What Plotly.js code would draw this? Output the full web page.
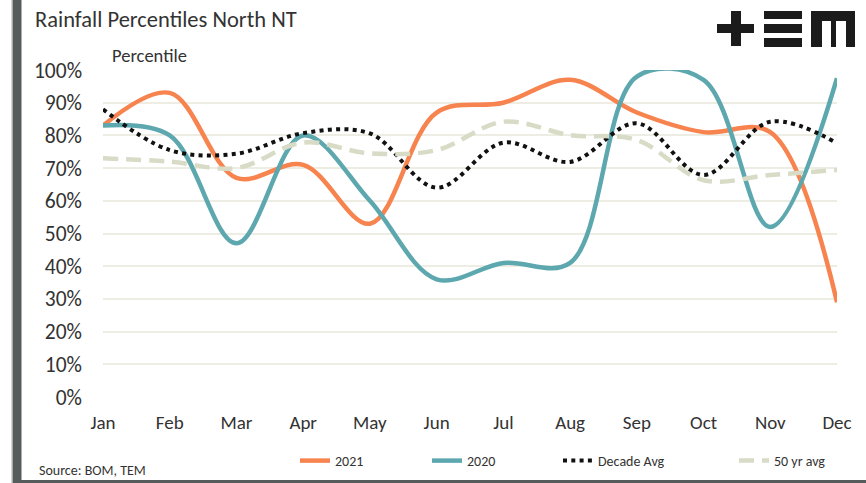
<!DOCTYPE html>
<html><head><meta charset="utf-8">
<script src="https://cdn.plot.ly/plotly-3.0.1.min.js"></script>
<style>html,body{margin:0;padding:0;background:#fff}#chart{width:866px;height:483px}</style>
</head><body><div id="chart"></div>
<script>
const months = ['Jan','Feb','Mar','Apr','May','Jun','Jul','Aug','Sep','Oct','Nov','Dec'];
const y2021 = [83, 93, 67, 71, 53, 87, 90, 97, 87, 81, 81, 29];
const y2020 = [83, 80, 47, 80, 60, 36, 41, 41, 98, 97, 52, 97.5];
const decadeAvg = [88, 75.5, 74.4, 80.7, 80.6, 64, 77.8, 71.9, 83.7, 67.9, 84.2, 77.6];
const avg50 = [73, 72, 70, 77.8, 74.5, 75.5, 84.2, 80.1, 78.6, 66.3, 67.9, 69.4];
const yTickVals = [0,10,20,30,40,50,60,70,80,90,100];
const yTickText = ['0%','10%','20%','30%','40%','50%','60%','70%','80%','90%','100%'];

const FONT = "Carlito, 'Liberation Sans Narrow', 'Open Sans', sans-serif";
const TXT = '#333333';

function legendAt(px){
  return {xref:'container', yref:'container', x:px/866, y:1-461/483, xanchor:'left', yanchor:'middle',
    orientation:'h', bgcolor:'rgba(0,0,0,0)', font:{family:FONT, size:14, color:TXT}};
}

const traces = [
  {x:months, y:y2021, name:'2021', type:'scatter', mode:'lines', legend:'legend',
   line:{color:'#F7834F', width:4.5, shape:'spline', smoothing:1}},
  {x:months, y:y2020, name:'2020', type:'scatter', mode:'lines', legend:'legend2',
   line:{color:'#5DA7AF', width:4.5, shape:'spline', smoothing:1}},
  {x:months, y:decadeAvg, name:'Decade Avg', type:'scatter', mode:'lines', legend:'legend3',
   line:{color:'#111111', width:4, shape:'spline', smoothing:1, dash:'4px,4.3px'}},
  {x:months, y:avg50, name:'50 yr avg', type:'scatter', mode:'lines', legend:'legend4',
   line:{color:'#D8DBC6', width:4.5, shape:'spline', smoothing:1, dash:'15px,8px'}}
];

function px2paperX(px){ return (px-103)/734; }
function px2paperY(py){ return (397-py)/327; }

function rect(x0,y0,x1,y1,color){
  return {type:'rect', xref:'paper', yref:'paper', x0:px2paperX(x0), x1:px2paperX(x1),
    y0:px2paperY(y1), y1:px2paperY(y0), fillcolor:color, line:{width:0}, layer:'above'};
}
const LOGO = '#1b1b1b';
const shapes = [
  rect(13,0,21.5,483,'#555C5B'),
  rect(11.5,0,13,483,'#A9ADAC'),
  rect(13,480,866,483,'#555C5B'),
  // logo "+"
  rect(717,24,754,33,LOGO),
  rect(731,11,741,46,LOGO),
  // logo "≡"
  rect(764,11,802,19,LOGO),
  rect(764,24,802,33,LOGO),
  rect(764,38,802,47,LOGO),
  // logo "m"
  rect(811,11,855,21,LOGO),
  rect(811,21,822,47,LOGO),
  rect(831,21,836,47,LOGO),
  rect(846,21,855,47,LOGO)
];

const layout = {
  width:866, height:483,
  margin:{l:103, r:29, t:70, b:86},
  paper_bgcolor:'#ffffff', plot_bgcolor:'#ffffff',
  font:{family:FONT, color:TXT},
  title:{text:'Rainfall Percentiles North NT', x:35/866, xanchor:'left', xref:'container',
    y:1-19/483, yanchor:'middle', yref:'container', font:{family:FONT, size:22.5, color:TXT}},
  xaxis:{type:'category', range:[0,11], showgrid:false, zeroline:false, showline:false,
    ticks:'', tickfont:{family:FONT, size:19, color:TXT}, ticklabelstandoff:12, fixedrange:true},
  yaxis:{range:[0,100], tickvals:yTickVals, ticktext:yTickText, showgrid:true, gridcolor:'#EDEDE3',
    gridwidth:2, zeroline:false, showline:false, ticks:'', tickfont:{family:FONT, size:21.5, color:TXT},
    ticklabelstandoff:20, fixedrange:true},
  showlegend:true,
  legend:legendAt(295),
  legend2:legendAt(427),
  legend3:legendAt(558),
  legend4:legendAt(734),
  shapes:shapes,
  annotations:[
    {text:'Percentile', xref:'paper', yref:'paper', x:px2paperX(110), y:px2paperY(56),
     xanchor:'left', yanchor:'middle', showarrow:false, font:{family:FONT, size:18.5, color:TXT}},
    {text:'Source: BOM, TEM', xref:'paper', yref:'paper', x:px2paperX(37), y:px2paperY(470),
     xanchor:'left', yanchor:'middle', showarrow:false, font:{family:FONT, size:14, color:TXT}}
  ]
};

Plotly.newPlot('chart', traces, layout, {displayModeBar:false, staticPlot:true});
</script></body></html>
